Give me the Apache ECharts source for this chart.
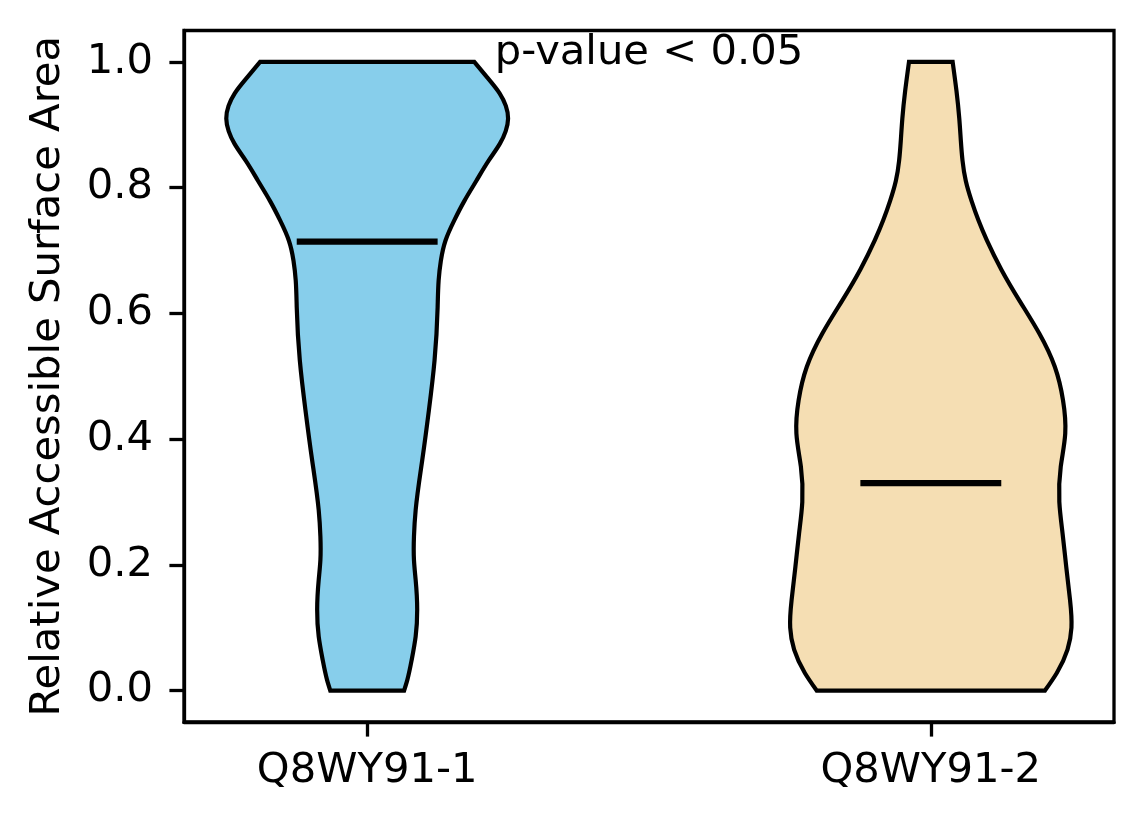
<!DOCTYPE html>
<html><head><meta charset="utf-8">
<script src="https://cdn.jsdelivr.net/npm/echarts@6/dist/echarts.min.js"></script>
<style>html,body{margin:0;padding:0;background:#fff}#c{width:1144px;height:824px}</style>
</head><body><div id="c"></div>
<script>
// ---- data ----
const categories = ['Q8WY91-1', 'Q8WY91-2'];
const positions = [1, 2];
const medians = [0.714, 0.330];
const yTicks = [0.0, 0.2, 0.4, 0.6, 0.8, 1.0];
const yAxisTitle = 'Relative Accessible Surface Area';
const annotationText = 'p-value < 0.05';
const annotationPos = [1.5, 1.0];

// violin outlines: y values and relative half-width (1 = widest)
const violin1Y = [0, 0.017, 0.049, 0.086, 0.129, 0.176, 0.208, 0.245, 0.287, 0.367, 0.446, 0.525, 0.61, 0.652, 0.684, 0.716, 0.748, 0.779, 0.811, 0.843, 0.870, 0.89, 0.91, 0.93, 0.95, 0.975, 1.0];
const violin1W = [0.262, 0.285, 0.316, 0.344, 0.355, 0.344, 0.332, 0.332, 0.344, 0.391, 0.438, 0.478, 0.5, 0.507, 0.523, 0.556, 0.618, 0.69, 0.775, 0.862, 0.942, 0.983, 1.0, 0.984, 0.94, 0.853, 0.76];
const violin2Y = [0, 0.028, 0.065, 0.10, 0.144, 0.197, 0.25, 0.30, 0.356, 0.409, 0.462, 0.515, 0.568, 0.62, 0.67, 0.716, 0.748, 0.779, 0.811, 0.843, 0.875, 0.91, 0.954, 1.0];
const violin2W = [0.81, 0.894, 0.97, 0.998, 0.988, 0.961, 0.935, 0.912, 0.922, 0.954, 0.938, 0.88, 0.77, 0.63, 0.50, 0.398, 0.338, 0.289, 0.248, 0.225, 0.213, 0.202, 0.182, 0.155];

// ---- styles ----
const fillColors = ['#87CEEB', '#F5DEB3'];
const FONT = 'DejaVu Sans';
const FS = 41.7;
const HALF = 0.25;          // half of violin width (widths = 0.5)

const profiles = [{ y: violin1Y, w: violin1W }, { y: violin2Y, w: violin2W }];

// natural cubic spline x(y) -> list of cubic bezier segments in data space
function splineSegments(ys, xs) {
  const n = ys.length, h = [], M = new Array(n).fill(0);
  for (let i = 0; i < n - 1; i++) h.push(ys[i + 1] - ys[i]);
  if (n > 2) {
    const a = [], b = [], c = [], r = [];
    for (let i = 1; i < n - 1; i++) {
      a.push(h[i - 1]); b.push(2 * (h[i - 1] + h[i])); c.push(h[i]);
      r.push(6 * ((xs[i + 1] - xs[i]) / h[i] - (xs[i] - xs[i - 1]) / h[i - 1]));
    }
    const m = b.length;
    for (let i = 1; i < m; i++) { const f = a[i] / b[i - 1]; b[i] -= f * c[i - 1]; r[i] -= f * r[i - 1]; }
    const sol = new Array(m);
    sol[m - 1] = r[m - 1] / b[m - 1];
    for (let i = m - 2; i >= 0; i--) sol[i] = (r[i] - c[i] * sol[i + 1]) / b[i];
    for (let i = 0; i < m; i++) M[i + 1] = sol[i];
  }
  const segs = [];
  for (let i = 0; i < n - 1; i++) {
    const s = (xs[i + 1] - xs[i]) / h[i];
    const d0 = s - h[i] * (2 * M[i] + M[i + 1]) / 6;
    const d1 = s + h[i] * (M[i] + 2 * M[i + 1]) / 6;
    segs.push([
      [xs[i], ys[i]],
      [xs[i] + h[i] * d0 / 3, ys[i] + h[i] / 3],
      [xs[i + 1] - h[i] * d1 / 3, ys[i + 1] - h[i] / 3],
      [xs[i + 1], ys[i + 1]]
    ]);
  }
  return segs;
}

function edgePath(segs, toPx, first, reverse) {
  let list = segs;
  if (reverse) list = segs.slice().reverse().map(s => [s[3], s[2], s[1], s[0]]);
  const p0 = toPx(list[0][0]);
  let d = (first ? 'M' : 'L') + p0[0] + ',' + p0[1];
  list.forEach(s => {
    const c1 = toPx(s[1]), c2 = toPx(s[2]), e = toPx(s[3]);
    d += 'C' + c1[0] + ',' + c1[1] + ' ' + c2[0] + ',' + c2[1] + ' ' + e[0] + ',' + e[1];
  });
  return d;
}

const chart = echarts.init(document.getElementById('c'), null, { renderer: 'canvas' });
chart.setOption({
  animation: false,
  backgroundColor: '#fff',
  grid: { left: 184, right: 30, top: 30.5, bottom: 102, show: true, borderColor: '#000', borderWidth: 3.3, backgroundColor: 'transparent' },
  xAxis: {
    type: 'value', min: 0.675, max: 2.325,
    splitLine: { show: false },
    axisLine: { show: true, onZero: false, lineStyle: { color: '#000', width: 3.3 } },
    axisTick: { show: true, customValues: positions, length: 14.6, lineStyle: { color: '#000', width: 3.3 } },
    axisLabel: { customValues: positions, margin: 28, color: '#000', fontFamily: FONT, fontSize: FS,
      formatter: v => categories[positions.indexOf(Math.round(v))] || '' }
  },
  yAxis: {
    type: 'value', min: -0.05, max: 1.05,
    name: yAxisTitle, nameLocation: 'middle', nameRotate: 90, nameGap: 115,
    nameTextStyle: { color: '#000', fontFamily: FONT, fontSize: FS },
    splitLine: { show: false },
    axisLine: { show: true, onZero: false, lineStyle: { color: '#000', width: 3.3 } },
    axisTick: { show: true, customValues: yTicks, length: 14.6, lineStyle: { color: '#000', width: 3.3 } },
    axisLabel: { customValues: yTicks, margin: 31, color: '#000', fontFamily: FONT, fontSize: FS,
      formatter: v => v.toFixed(1) }
  },
  series: [
    {
      type: 'custom',
      data: positions.map((p, i) => [p, medians[i]]),
      encode: { x: 0, y: 1 },
      renderItem(params, api) {
        const i = params.dataIndex;
        const pos = api.value(0);
        const prof = profiles[i];
        const toPx = pt => api.coord(pt);
        const leftX = prof.w.map(w => pos - w * HALF);
        const rightX = prof.w.map(w => pos + w * HALF);
        const leftSegs = splineSegments(prof.y, leftX);
        const rightSegs = splineSegments(prof.y, rightX);
        const d = edgePath(leftSegs, toPx, true, false) + edgePath(rightSegs, toPx, false, true) + 'Z';
        const m0 = api.coord([pos - HALF / 2, api.value(1)]);
        const m1 = api.coord([pos + HALF / 2, api.value(1)]);
        return {
          type: 'group',
          children: [
            { type: 'path', shape: { pathData: d }, style: { fill: fillColors[i], stroke: '#000', lineWidth: 4.2, lineJoin: 'miter' } },
            { type: 'line', shape: { x1: m0[0], y1: m0[1], x2: m1[0], y2: m1[1] }, style: { stroke: '#000', lineWidth: 6.2 } }
          ]
        };
      }
    },
    {
      type: 'custom',
      data: [[annotationPos[0], annotationPos[1], annotationText]],
      encode: { x: 0, y: 1 },
      renderItem(params, api) {
        const p = api.coord([api.value(0), api.value(1)]);
        return {
          type: 'text', x: p[0], y: p[1] + 12,
          style: { text: annotationText, fill: '#000', fontFamily: FONT, fontSize: FS, align: 'center', verticalAlign: 'bottom' }
        };
      }
    }
  ]
});
</script>
</body></html>
